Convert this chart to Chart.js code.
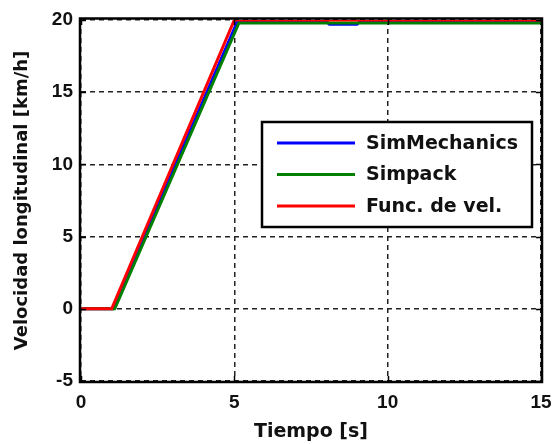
<!DOCTYPE html>
<html>
<head>
<meta charset="utf-8">
<script src="https://cdn.jsdelivr.net/npm/chart.js@4/dist/chart.umd.min.js"></script>
<style>
  html, body { margin: 0; padding: 0; background: #fff; }
  #wrap { width: 555px; height: 444px; }
</style>
</head>
<body>
<div id="wrap"><canvas id="velChart" width="555" height="444"></canvas></div>
<script>
// Velocity traces: time [s] and longitudinal speed [km/h]
const simMechT = [0, 1.05, 5.1, 6.5, 6.6, 6.9, 7.0, 8.0, 8.1, 9.0, 9.1, 9.35, 9.45, 9.7, 9.8, 15];
const simMechV = [0, 0, 19.9, 19.9, 19.95, 19.95, 19.9, 19.9, 19.7, 19.7, 19.9, 19.9, 19.95, 19.95, 19.9, 19.9];
const simpackT = [0, 1.1, 5.15, 15];
const simpackV = [0, 0, 19.8, 19.8];
const funcVelT = [0, 1.0, 5.0, 15];
const funcVelV = [0, 0, 20, 20];

const seriesNames = ['SimMechanics', 'Simpack', 'Func. de vel.'];
const seriesColors = ['#0000ff', '#008000', '#ff0000'];

const xTicks = [0, 5, 10, 15];
const yTicks = [-5, 0, 5, 10, 15, 20];

const tickFont = { family: '"Liberation Sans", Arial, sans-serif', size: 19, weight: 'bold' };
const titleFont = { family: '"DejaVu Sans", sans-serif', size: 19, weight: 'bold' };

function pts(ts, vs) {
    return ts.map((t, i) => ({ x: t, y: vs[i] }));
}

// black box around the axes plus short inward ticks, matlab style
const frameBox = {
    id: 'frameBox',
    afterDatasetsDraw(chart) {
        const { ctx, chartArea: a, scales } = chart;
        ctx.save();
        ctx.strokeStyle = '#000';
        ctx.lineWidth = 1.5;
        ctx.beginPath();
        xTicks.forEach(v => {
            const px = Math.round(scales.x.getPixelForValue(v)) + 0.5;
            ctx.moveTo(px, a.bottom); ctx.lineTo(px, a.bottom - 5);
            ctx.moveTo(px, a.top); ctx.lineTo(px, a.top + 5);
        });
        yTicks.forEach(v => {
            const py = Math.round(scales.y.getPixelForValue(v)) + 0.5;
            ctx.moveTo(a.left, py); ctx.lineTo(a.left + 5, py);
            ctx.moveTo(a.right, py); ctx.lineTo(a.right - 5, py);
        });
        ctx.stroke();
        ctx.lineWidth = 2.5;
        ctx.strokeRect(a.left - 1, a.top - 1.5, a.right - a.left + 2, a.bottom - a.top + 2.5);
        ctx.restore();
    }
};

// legend box inside the plot
const boxLegend = {
    id: 'boxLegend',
    afterDraw(chart) {
        const { ctx } = chart;
        const bx = 262, by = 122, bw = 270, bh = 105;
        ctx.save();
        ctx.fillStyle = '#fff';
        ctx.fillRect(bx, by, bw, bh);
        ctx.strokeStyle = '#000';
        ctx.lineWidth = 2.5;
        ctx.strokeRect(bx, by, bw, bh);
        ctx.font = 'bold 19px "DejaVu Sans", sans-serif';
        ctx.textBaseline = 'middle';
        chart.data.datasets.forEach((ds, i) => {
            const y = by + 21 + i * 31.5;
            ctx.strokeStyle = ds.borderColor;
            ctx.lineWidth = 3;
            ctx.beginPath();
            ctx.moveTo(bx + 15, y);
            ctx.lineTo(bx + 93, y);
            ctx.stroke();
            ctx.fillStyle = '#111';
            ctx.fillText(ds.label, bx + 104, y + 1);
        });
        ctx.restore();
    }
};

const ctx = document.getElementById('velChart').getContext('2d');
new Chart(ctx, {
    type: 'line',
    data: {
        datasets: [
            { label: seriesNames[0], data: pts(simMechT, simMechV), borderColor: seriesColors[0], order: 2 },
            { label: seriesNames[1], data: pts(simpackT, simpackV), borderColor: seriesColors[1], order: 1 },
            { label: seriesNames[2], data: pts(funcVelT, funcVelV), borderColor: seriesColors[2], order: 0 }
        ]
    },
    options: {
        responsive: false,
        animation: false,
        layout: { padding: { top: 20, right: 14, left: 0, bottom: 0 } },
        elements: {
            line: { borderWidth: 3, tension: 0 },
            point: { radius: 0 }
        },
        plugins: {
            legend: { display: false },
            tooltip: { enabled: false }
        },
        scales: {
            x: {
                type: 'linear',
                min: 0,
                max: 15,
                afterFit(s) { s.height = 63; s.paddingLeft = 0; s.paddingRight = 0; },
                afterBuildTicks(s) { s.ticks = xTicks.map(v => ({ value: v })); },
                ticks: { font: tickFont, color: '#111', padding: 10, maxRotation: 0 },
                grid: { color: '#222', lineWidth: 1.5, drawTicks: false },
                border: { display: false, dash: [5, 4] },
                title: { display: true, text: 'Tiempo [s]', font: titleFont, color: '#111', padding: { top: 0, bottom: 1 } }
            },
            y: {
                type: 'linear',
                min: -5,
                max: 20,
                afterFit(s) { s.width = 81; s.paddingTop = 0; s.paddingBottom = 0; },
                afterBuildTicks(s) { s.ticks = yTicks.map(v => ({ value: v })); },
                ticks: { font: tickFont, color: '#111', padding: 8 },
                grid: { color: '#222', lineWidth: 1.5, drawTicks: false },
                border: { display: false, dash: [5, 4] },
                title: { display: true, text: 'Velocidad longitudinal [km/h]', font: { family: '"DejaVu Sans", sans-serif', size: 18, weight: 'bold' }, color: '#111', padding: { top: 12, bottom: 0 } }
            }
        }
    },
    plugins: [frameBox, boxLegend]
});
</script>
</body>
</html>
